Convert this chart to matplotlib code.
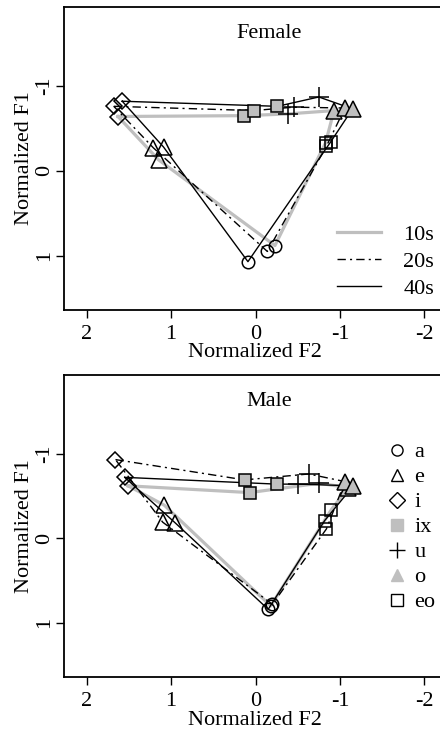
import matplotlib
matplotlib.use("Agg")
import matplotlib.pyplot as plt
from matplotlib.lines import Line2D

plt.rcParams["font.family"] = ["Liberation Serif", "DejaVu Serif"]

# vowel order around the polygon (closed back to i)
vowels = ["i", "ix", "u", "o", "eo", "a", "e"]
legend_order = ["a", "e", "i", "ix", "u", "o", "eo"]
groups = ["10s", "20s", "40s"]

# Female: (F2, F1) per vowel
female_10s_f2 = [1.63, 0.14, -0.38, -0.93, -0.83, -0.23, 1.15]
female_10s_f1 = [-0.64, -0.65, -0.67, -0.71, -0.33, 0.88, -0.13]
female_20s_f2 = [1.68, 0.02, -0.45, -1.06, -0.84, -0.14, 1.21]
female_20s_f1 = [-0.76, -0.71, -0.75, -0.74, -0.29, 0.95, -0.27]
female_40s_f2 = [1.58, -0.26, -0.75, -1.15, -0.89, 0.09, 1.09]
female_40s_f1 = [-0.82, -0.76, -0.87, -0.73, -0.34, 1.07, -0.28]

# Male
male_10s_f2 = [1.51, 0.07, -0.75, -1.10, -0.90, -0.18, 1.08]
male_10s_f1 = [-0.62, -0.54, -0.65, -0.60, -0.34, 0.80, -0.39]
male_20s_f2 = [1.66, 0.13, -0.63, -1.06, -0.84, -0.20, 1.10]
male_20s_f1 = [-0.93, -0.69, -0.76, -0.67, -0.11, 0.78, -0.19]
male_40s_f2 = [1.55, -0.25, -0.50, -1.16, -0.82, -0.15, 0.95]
male_40s_f1 = [-0.72, -0.64, -0.64, -0.62, -0.21, 0.84, -0.18]

female = {"10s": (female_10s_f2, female_10s_f1),
          "20s": (female_20s_f2, female_20s_f1),
          "40s": (female_40s_f2, female_40s_f1)}
male = {"10s": (male_10s_f2, male_10s_f1),
        "20s": (male_20s_f2, male_20s_f1),
        "40s": (male_40s_f2, male_40s_f1)}

GRAY = "#bfbfbf"
FS = 16
line_style = {
    "10s": dict(color=GRAY, lw=2.3, ls="-"),
    "20s": dict(color="black", lw=1.0, ls=(0, (6, 3, 1.5, 3))),
    "40s": dict(color="black", lw=1.0, ls="-"),
}
marker_style = {
    "a": dict(marker="o", ms=9, mfc="none", mec="black"),
    "e": dict(marker="^", ms=11, mfc="none", mec="black"),
    "i": dict(marker="D", ms=8, mfc="none", mec="black"),
    "ix": dict(marker="s", ms=8.5, mfc=GRAY, mec="black"),
    "u": dict(marker="+", ms=14, mfc="none", mec="black"),
    "o": dict(marker="^", ms=11, mfc=GRAY, mec="black"),
    "eo": dict(marker="s", ms=8.5, mfc="none", mec="black"),
}


def draw_panel(ax, data, title):
    for g in groups:
        f2, f1 = data[g]
        ax.plot(list(f2) + [f2[0]], list(f1) + [f1[0]], zorder=2, **line_style[g])
    for g in groups:
        f2, f1 = data[g]
        for k, v in enumerate(vowels):
            ax.plot(f2[k], f1[k], ls="none", mew=1.1, zorder=3, **marker_style[v])
    ax.set_xlim(2.27, -2.21)
    ax.set_ylim(1.64, -1.93)
    ax.set_xticks([2, 1, 0, -1, -2])
    ax.set_xticklabels(["2", "1", "0", "-1", "-2"])
    ax.set_yticks([-1, 0, 1])
    ax.set_yticklabels(["-1", "0", "1"], rotation=90, va="center")
    ax.tick_params(labelsize=FS, length=6, width=1)
    ax.tick_params(axis="x", pad=5)
    ax.tick_params(axis="y", pad=1)
    ax.spines["right"].set_visible(False)
    for s in ["left", "bottom", "top"]:
        ax.spines[s].set_linewidth(1.3)
    ax.set_xlabel("Normalized F2", fontsize=FS)
    ax.set_ylabel("Normalized F1", fontsize=FS)
    ax.yaxis.set_label_coords(-0.08, 0.5)
    ax.text(-0.16, -1.62, title, fontsize=FS, ha="center", va="center")


fig = plt.figure(figsize=(4.4, 7.3), dpi=100)
ax1 = fig.add_axes([64 / 440, 0.5753, 378 / 440, 0.4151])
ax2 = fig.add_axes([64 / 440, 0.0726, 378 / 440, 0.4137])

draw_panel(ax1, female, "Female")
draw_panel(ax2, male, "Male")
ax1.xaxis.set_label_coords(0.506, -0.108)
ax2.xaxis.set_label_coords(0.506, -0.112)

# age legend (female panel)
age_handles = [Line2D([], [], **line_style[g]) for g in groups]
ax1.legend(age_handles, groups, loc="lower right", bbox_to_anchor=(1.02, -0.015),
           frameon=False, fontsize=FS, handlelength=2.0, handletextpad=1.0,
           labelspacing=0.3, borderaxespad=0.3)

# vowel legend (male panel)
vowel_handles = []
for v in legend_order:
    st = dict(marker_style[v])
    st["ms"] = 8 if v != "u" else 12
    if v in ("ix", "o"):
        st["mec"] = GRAY
    vowel_handles.append(Line2D([], [], ls="none", mew=1.0, **st))
ax2.legend(vowel_handles, legend_order, loc="upper left", bbox_to_anchor=(0.81, 0.83),
           frameon=False, fontsize=FS, handlelength=1.0, handletextpad=0.3,
           labelspacing=0.2, borderaxespad=0.3)

fig.savefig("out.png", dpi=100)
